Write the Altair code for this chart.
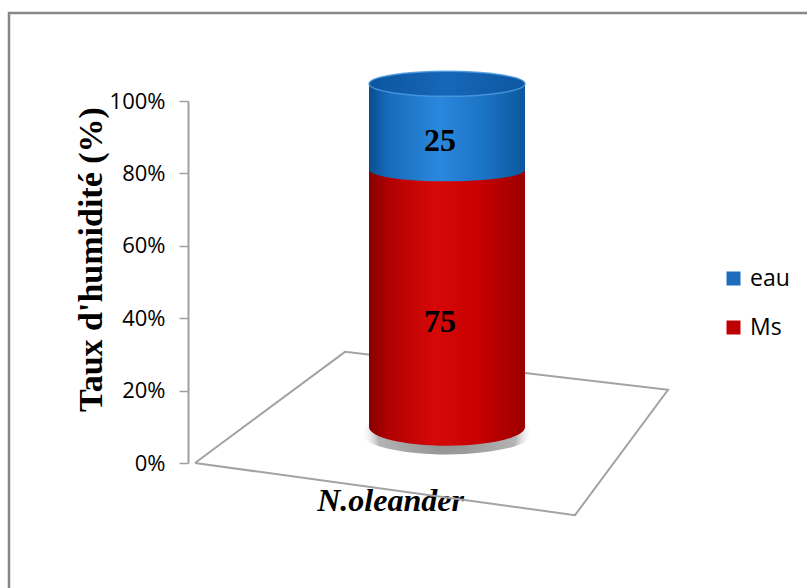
import altair as alt
import pandas as pd

# --- data -------------------------------------------------------------
categories = ["N.oleander"]
parts = ["Ms", "eau"]          # stacking order, bottom to top
values = [75, 25]              # humidity split, percent
legend_order = ["eau", "Ms"]
legend_colors = ["#1f6cbf", "#c00000"]
y_ticks = [0, 20, 40, 60, 80, 100]

# outline of the perspective floor (plot-width units, percent units)
floor_x = [7, 157, 480, 387, 7]
floor_y = [0, 30.7, 20.2, -14.4, 0]

# --- derived tables ---------------------------------------------------
rows = []
base = 0
for p, v in zip(parts, values):
    rows.append({"cat": categories[0], "part": p, "value": v,
                 "start": base, "end": base + v, "mid": base + v / 2})
    base += v
bars = pd.DataFrame(rows)
floor = pd.DataFrame({"fx": floor_x, "fy": floor_y, "i": range(len(floor_x))})
one = pd.DataFrame({"k": [0]})

# --- geometry ---------------------------------------------------------
W, H = 518, 362
CYL_W = 156
cyl_domain = [-10.5, 95.0]     # the cylinder sits deeper in the scene


def ellipse_path(k):
    c = 0.5523
    return (f"M -1 0 C -1 {-c*k:.4f} {-c:.4f} {-k:.4f} 0 {-k:.4f} "
            f"C {c:.4f} {-k:.4f} 1 {-c*k:.4f} 1 0 "
            f"C 1 {c*k:.4f} {c:.4f} {k:.4f} 0 {k:.4f} "
            f"C {-c:.4f} {k:.4f} -1 {c*k:.4f} -1 0 Z")


def hgrad(stops):
    return alt.Gradient(
        gradient="linear", x1=0, x2=1, y1=0, y2=0,
        stops=[alt.GradientStop(offset=o, color=c) for o, c in stops])


red_grad = hgrad([(0, "#860000"), (0.12, "#b00000"), (0.42, "#d60808"),
                  (0.7, "#c80000"), (1, "#9a0000")])
blue_grad = hgrad([(0, "#0a4d8e"), (0.12, "#176bbb"), (0.45, "#2a88dc"),
                   (0.72, "#1c74c6"), (1, "#0d579e")])
cap_grad = hgrad([(0, "#0b559e"), (0.5, "#1767b8"), (1, "#0c57a0")])
shadow_grad = alt.Gradient(
    gradient="radial", x1=0.5, y1=0.5, x2=0.5, y2=0.5, r1=0, r2=0.5,
    stops=[alt.GradientStop(offset=0, color="#8c8c8c"),
           alt.GradientStop(offset=0.8, color="#b4b4b4"),
           alt.GradientStop(offset=1, color="rgba(255,255,255,0)")])

x_band = alt.X("cat:N", scale=alt.Scale(domain=categories), axis=None)
y_cyl_scale = alt.Scale(domain=cyl_domain, nice=False, zero=False)

# --- layers -----------------------------------------------------------
frame = alt.Chart(one).mark_rect(
    fillOpacity=0, stroke="#878787", strokeWidth=2.5
).encode(x=alt.value(-179), x2=alt.value(640),
         y=alt.value(-88), y2=alt.value(540))

floor_line = alt.Chart(floor).mark_line(
    color="#a3a3a3", strokeWidth=2
).encode(
    x=alt.X("fx:Q", scale=alt.Scale(domain=[0, W], nice=False, zero=False), axis=None),
    y=alt.Y("fy:Q", scale=alt.Scale(domain=[0, 100], nice=False, zero=False), axis=None),
    order="i:Q",
)

shadow = alt.Chart(bars).transform_filter(alt.datum.part == "Ms").mark_point(
    shape=ellipse_path(0.25), size=(CYL_W + 16) ** 2, filled=True,
    fill=shadow_grad, opacity=1, strokeWidth=0, yOffset=6
).encode(x=x_band, y=alt.Y("start:Q", scale=y_cyl_scale, axis=None))

flat = alt.Chart(bars).mark_bar(size=CYL_W).encode(
    x=x_band,
    y=alt.Y("start:Q", scale=y_cyl_scale, axis=None),
    y2="end:Q",
    color=alt.Color(
        "part:N",
        scale=alt.Scale(domain=legend_order, range=legend_colors),
        legend=alt.Legend(
            title=None, orient="none", legendX=534, legendY=166,
            symbolType="square", symbolSize=196, symbolStrokeWidth=0,
            labelFont="Open Sans", labelFontSize=23, labelColor="black",
            rowPadding=25, labelOffset=5, padding=0,
        ),
    ),
)

red_bottom = alt.Chart(bars).transform_filter(alt.datum.part == "Ms").mark_point(
    shape=ellipse_path(0.24), size=CYL_W ** 2, filled=True,
    fill=red_grad, opacity=1, strokeWidth=0
).encode(x=x_band, y=alt.Y("start:Q", scale=y_cyl_scale, axis=None))

red_body = alt.Chart(bars).transform_filter(alt.datum.part == "Ms").mark_bar(
    size=CYL_W, fill=red_grad
).encode(x=x_band, y=alt.Y("start:Q", scale=y_cyl_scale, axis=None), y2="end:Q")

blue_bottom = alt.Chart(bars).transform_filter(alt.datum.part == "eau").mark_point(
    shape=ellipse_path(0.15), size=CYL_W ** 2, filled=True,
    fill=blue_grad, opacity=1, strokeWidth=0
).encode(x=x_band, y=alt.Y("start:Q", scale=y_cyl_scale, axis=None))

blue_body = alt.Chart(bars).transform_filter(alt.datum.part == "eau").mark_bar(
    size=CYL_W, fill=blue_grad
).encode(x=x_band, y=alt.Y("start:Q", scale=y_cyl_scale, axis=None), y2="end:Q")

top_cap = alt.Chart(bars).transform_filter(alt.datum.part == "eau").mark_point(
    shape=ellipse_path(0.16), size=CYL_W ** 2, filled=True,
    fill=cap_grad, opacity=1, stroke="#4b9be0", strokeWidth=1.5, strokeOpacity=0.85
).encode(x=x_band, y=alt.Y("end:Q", scale=y_cyl_scale, axis=None))

labels = alt.Chart(bars).mark_text(
    font="Liberation Serif", fontSize=32, fontWeight="bold", color="black",
    dx=-7, dy=-5, baseline="middle"
).encode(
    x=alt.X("cat:N", scale=alt.Scale(domain=categories),
            axis=alt.Axis(title=None, domain=False, ticks=False, tickSize=0,
                          labelFont="Liberation Serif", labelFontSize=32,
                          labelFontWeight="bold", labelFontStyle="italic",
                          labelColor="black", labelOffset=-57, labelPadding=22,
                          labelAngle=0, labelLimit=400)),
    y=alt.Y("mid:Q", scale=alt.Scale(domain=[0, 100], nice=False),
            axis=alt.Axis(values=y_ticks, labelExpr="datum.value + '%'",
                          grid=False, domainColor="#a0a0a0", domainWidth=2,
                          tickColor="#a0a0a0", tickWidth=1.5, tickSize=9,
                          labelFont="Open Sans", labelFontSize=22,
                          labelColor="black", labelPadding=14,
                          title="Taux d'humidité (%)",
                          titleFont="Liberation Serif", titleFontSize=34,
                          titleFontWeight="bold", titleColor="black",
                          titleAngle=270, titleAlign="center",
                          titleBaseline="alphabetic", titleX=-87, titleY=158)),
    text=alt.Text("value:Q"),
)

chart = alt.layer(
    frame, floor_line, shadow, flat, red_bottom, red_body,
    blue_bottom, blue_body, top_cap, labels,
).resolve_scale(
    x="independent", y="independent"
).properties(
    width=W, height=H,
    padding={"left": 188, "top": 101, "right": 101, "bottom": 125},
    autosize=alt.AutoSizeParams(type="none"),
    background="white",
).configure_view(strokeWidth=0)

chart.save("out.html", embed_options={"renderer": "svg", "actions": False})
